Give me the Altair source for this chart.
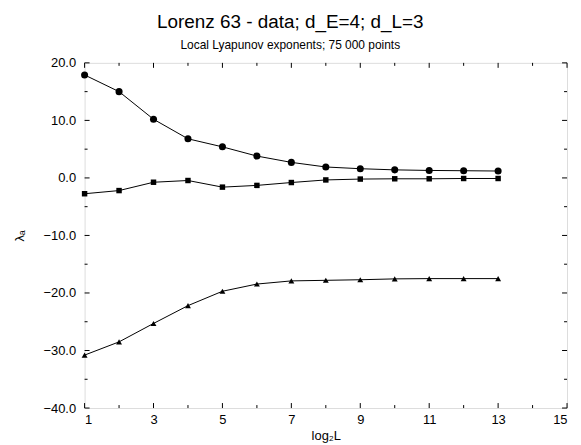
import altair as alt
import pandas as pd

# ---- data ----
steps = [1, 2, 3, 4, 5, 6, 7, 8, 9, 10, 11, 12, 13]
lam1 = [17.9, 15.0, 10.2, 6.8, 5.4, 3.8, 2.7, 1.9, 1.6, 1.4, 1.3, 1.25, 1.2]
lam2 = [-2.75, -2.2, -0.75, -0.45, -1.6, -1.3, -0.8, -0.35, -0.2, -0.15, -0.15, -0.1, -0.1]
lam3 = [-30.8, -28.5, -25.3, -22.2, -19.7, -18.45, -17.9, -17.8, -17.7, -17.55, -17.5, -17.5, -17.5]

x_major = [1, 3, 5, 7, 9, 11, 13, 15]
x_minor = [2, 4, 6, 8, 10, 12, 14]
y_major = [-40, -30, -20, -10, 0, 10, 20]
y_minor = [-35, -25, -15, -5, 5, 15]

W, H = 485, 347
FONT = "Liberation Sans"
MAJ, MIN = 5, 3

rows = []
for name, vals in (("l1", lam1), ("l2", lam2), ("l3", lam3)):
    for s, v in zip(steps, vals):
        rows.append({"step": s, "lam": v, "series": name})
df = pd.DataFrame(rows)

xs = alt.Scale(domain=[1, 15], nice=False, zero=False)
ys = alt.Scale(domain=[-40, 20], nice=False, zero=False)

xaxis = alt.Axis(values=x_major, format="d", ticks=False, domain=False, grid=False,
                 labelFont=FONT, labelFontSize=13, labelColor="black", labelPadding=6,
                 title="log₂L", titleFont=FONT, titleFontSize=13, titleFontWeight="normal",
                 titleColor="black", titlePadding=3)
yaxis = alt.Axis(values=y_major, format=".1f", ticks=False, domain=False, grid=False,
                 labelFont=FONT, labelFontSize=13, labelColor="black", labelPadding=9,
                 title="λₐ", titleFont=FONT, titleFontSize=13, titleFontWeight="normal",
                 titleColor="black", titlePadding=17)

base = alt.Chart(df)
lines = base.mark_line(color="black", strokeWidth=1).encode(
    x=alt.X("step:Q", scale=xs, axis=xaxis),
    y=alt.Y("lam:Q", scale=ys, axis=yaxis),
    detail="series:N",
)

def pts(name, shape, size):
    return alt.Chart(df[df.series == name]).mark_point(
        shape=shape, filled=True, color="black", size=size, opacity=1
    ).encode(x=alt.X("step:Q", scale=xs), y=alt.Y("lam:Q", scale=ys))

p1 = pts("l1", "circle", 50)
p2 = pts("l2", "square", 30)
p3 = pts("l3", "triangle-up", 35)

def xticks(vals, ln):
    d = pd.DataFrame({"v": vals})
    b = alt.Chart(d).mark_rule(color="black", strokeWidth=1)
    bot = b.encode(x=alt.X("v:Q", scale=xs), y=alt.value(H), y2=alt.value(H - ln))
    top = b.encode(x=alt.X("v:Q", scale=xs), y=alt.value(0), y2=alt.value(ln))
    return [bot, top]

def yticks(vals, ln):
    d = pd.DataFrame({"v": vals})
    b = alt.Chart(d).mark_rule(color="black", strokeWidth=1)
    lft = b.encode(y=alt.Y("v:Q", scale=ys), x=alt.value(0), x2=alt.value(ln))
    rgt = b.encode(y=alt.Y("v:Q", scale=ys), x=alt.value(W), x2=alt.value(W - ln))
    return [lft, rgt]

tick_layers = xticks(x_major, MAJ) + xticks(x_minor, MIN) + yticks(y_major, MAJ) + yticks(y_minor, MIN)

chart = alt.layer(lines, p1, p2, p3, *tick_layers).properties(
    width=W, height=H,
    padding={"left": 5, "top": 4, "right": 5, "bottom": 0},
    title=alt.TitleParams(
        text="Lorenz 63 - data; d_E=4; d_L=3",
        subtitle="Local Lyapunov exponents; 75 000 points",
        font=FONT, fontSize=19, fontWeight="normal", color="black",
        subtitleFont=FONT, subtitleFontSize=12, subtitleColor="black",
        subtitlePadding=8, anchor="middle", frame="bounds", offset=6,
    ),
).configure_view(stroke="black", strokeWidth=1).configure(background="white")

chart.save("out.html", embed_options={"renderer": "svg", "actions": False})
